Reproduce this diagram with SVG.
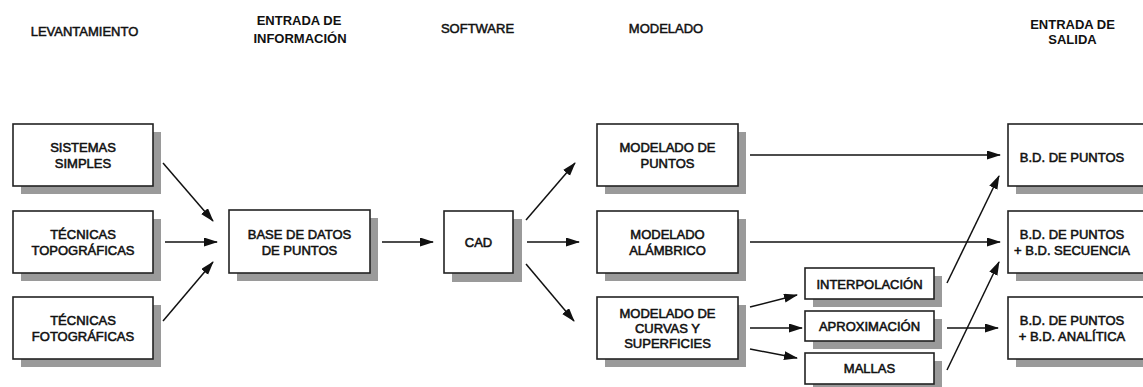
<svg xmlns="http://www.w3.org/2000/svg" width="1143" height="387" viewBox="0 0 1143 387">
<style>
  .sh { fill: #9a9a9a; }
  .bx { fill: #ffffff; stroke: #222; stroke-width: 1.6; }
  .t { font-family: "Liberation Sans", Arial, sans-serif; font-size: 13px; fill: #111; stroke: #111; stroke-width: 0.55; text-anchor: middle; }
  .h { font-family: "Liberation Sans", Arial, sans-serif; font-size: 13px; fill: #111; stroke: #111; stroke-width: 0.5; text-anchor: middle; }
  .hb { font-family: "Liberation Sans", Arial, sans-serif; font-size: 13px; font-weight: bold; fill: #111; text-anchor: middle; }
  .c { stroke: #111; stroke-width: 1.5; fill: none; marker-end: url(#ah); }
</style>
<defs>
  <marker id="ah" markerUnits="userSpaceOnUse" markerWidth="14" markerHeight="10" refX="13" refY="4.5" orient="auto">
    <path d="M0,0 L14,4.5 L0,9 z" fill="#111"/>
  </marker>
</defs>
<rect width="1143" height="387" fill="#fff"/>

<g id="headers">
  <text class="h" x="84.5" y="36">LEVANTAMIENTO</text>
  <text class="hb" x="299" y="25">ENTRADA DE</text>
  <text class="hb" x="300" y="43">INFORMACIÓN</text>
  <text class="h" x="477.5" y="33">SOFTWARE</text>
  <text class="h" x="666" y="33">MODELADO</text>
  <text class="hb" x="1072.5" y="28.5">ENTRADA DE</text>
  <text class="hb" x="1072.5" y="44">SALIDA</text>
</g>

<g id="sistemas-simples">
  <rect class="sh" x="21" y="132" width="140" height="62"/>
  <rect class="bx" x="13" y="124" width="140" height="62"/>
  <text class="t" x="83" y="151.5">SISTEMAS</text>
  <text class="t" x="83" y="167.5">SIMPLES</text>
</g>
<g id="tecnicas-topograficas">
  <rect class="sh" x="21" y="219" width="140" height="62"/>
  <rect class="bx" x="13" y="211" width="140" height="62"/>
  <text class="t" x="83" y="238.5">TÉCNICAS</text>
  <text class="t" x="83" y="254.5">TOPOGRÁFICAS</text>
</g>
<g id="tecnicas-fotograficas">
  <rect class="sh" x="21" y="305" width="140" height="62"/>
  <rect class="bx" x="13" y="297" width="140" height="62"/>
  <text class="t" x="83" y="324.5">TÉCNICAS</text>
  <text class="t" x="83" y="340.5">FOTOGRÁFICAS</text>
</g>
<g id="base-datos">
  <rect class="sh" x="237" y="218" width="141" height="63"/>
  <rect class="bx" x="229" y="210" width="141" height="63"/>
  <text class="t" x="299.5" y="238.7">BASE DE DATOS</text>
  <text class="t" x="299.5" y="254.7">DE PUNTOS</text>
</g>
<g id="cad">
  <rect class="sh" x="452" y="219" width="70" height="63"/>
  <rect class="bx" x="444" y="211" width="69" height="62"/>
  <text class="t" x="478.5" y="246.7">CAD</text>
</g>
<g id="modelado-puntos">
  <rect class="sh" x="605" y="132" width="141" height="62"/>
  <rect class="bx" x="597" y="124" width="141" height="62"/>
  <text class="t" x="667.5" y="151.5">MODELADO DE</text>
  <text class="t" x="667.5" y="167.5">PUNTOS</text>
</g>
<g id="modelado-alambrico">
  <rect class="sh" x="605" y="219" width="141" height="62"/>
  <rect class="bx" x="597" y="211" width="141" height="62"/>
  <text class="t" x="667.5" y="238.5">MODELADO</text>
  <text class="t" x="667.5" y="254.5">ALÁMBRICO</text>
</g>
<g id="modelado-curvas">
  <rect class="sh" x="605" y="305" width="141" height="62"/>
  <rect class="bx" x="597" y="297" width="141" height="62"/>
  <text class="t" x="667.5" y="317.5">MODELADO DE</text>
  <text class="t" x="667.5" y="332.5">CURVAS Y</text>
  <text class="t" x="667.5" y="347.5">SUPERFICIES</text>
</g>
<g id="interpolacion">
  <rect class="sh" x="813" y="276" width="129" height="31"/>
  <rect class="bx" x="805" y="268" width="129" height="31"/>
  <text class="t" x="869.5" y="288.5">INTERPOLACIÓN</text>
</g>
<g id="aproximacion">
  <rect class="sh" x="813" y="319" width="129" height="30"/>
  <rect class="bx" x="805" y="311" width="129" height="30"/>
  <text class="t" x="869.5" y="330.7">APROXIMACIÓN</text>
</g>
<g id="mallas">
  <rect class="sh" x="813" y="361" width="129" height="31"/>
  <rect class="bx" x="805" y="353" width="129" height="31"/>
  <text class="t" x="869.5" y="373.2">MALLAS</text>
</g>
<g id="bd-puntos">
  <rect class="sh" x="1016" y="132" width="140" height="62"/>
  <rect class="bx" x="1008" y="124" width="140" height="62"/>
  <text class="t" x="1072" y="161.5">B.D. DE PUNTOS</text>
</g>
<g id="bd-secuencia">
  <rect class="sh" x="1016" y="219" width="140" height="62"/>
  <rect class="bx" x="1008" y="211" width="140" height="62"/>
  <text class="t" x="1072" y="238.5">B.D. DE PUNTOS</text>
  <text class="t" x="1072" y="254.5">+ B.D. SECUENCIA</text>
</g>
<g id="bd-analitica">
  <rect class="sh" x="1016" y="305" width="140" height="62"/>
  <rect class="bx" x="1008" y="297" width="140" height="62"/>
  <text class="t" x="1072" y="324.5">B.D. DE PUNTOS</text>
  <text class="t" x="1072" y="340.5">+ B.D. ANALÍTICA</text>
</g>

<g id="connectors">
  <line class="c" x1="163" y1="163" x2="213" y2="221"/>
  <line class="c" x1="165" y1="242" x2="217" y2="242"/>
  <line class="c" x1="163" y1="321" x2="213" y2="262"/>
  <line class="c" x1="382" y1="242" x2="433" y2="242"/>
  <line class="c" x1="526" y1="220" x2="575" y2="163"/>
  <line class="c" x1="527" y1="242" x2="579" y2="242"/>
  <line class="c" x1="526" y1="264" x2="574" y2="321"/>
  <line class="c" x1="750" y1="155" x2="1000" y2="155"/>
  <line class="c" x1="750" y1="242" x2="1000" y2="242"/>
  <line class="c" x1="750" y1="307" x2="797" y2="295"/>
  <line class="c" x1="750" y1="328" x2="802" y2="328"/>
  <line class="c" x1="750" y1="349" x2="797" y2="358"/>
  <line class="c" x1="947" y1="283" x2="999" y2="176"/>
  <line class="c" x1="947" y1="328" x2="998" y2="328"/>
  <line class="c" x1="947" y1="370" x2="999" y2="262"/>
</g>
</svg>
